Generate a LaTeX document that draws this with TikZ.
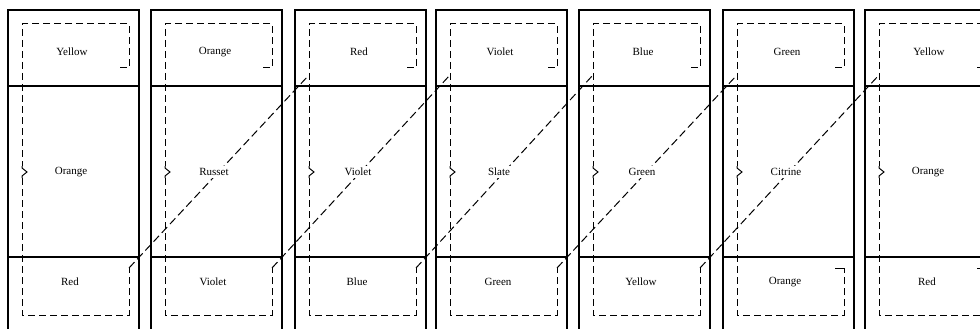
\documentclass[tikz,border=0pt]{standalone}
\usepackage{fontspec}
\setmainfont{Liberation Serif}
\begin{document}
\begin{tikzpicture}[x=1pt,y=-1pt,
  colbox/.style={line width=1.9pt},
  sepline/.style={line width=1.6pt},
  bracket/.style={line width=1.0pt, dash pattern=on 7pt off 4pt},
  solidbit/.style={line width=1.0pt},
  diag/.style={line width=1.0pt, dash pattern=on 8pt off 4pt},
  lbl/.style={font=\fontsize{11}{13}\selectfont, inner sep=0pt},
  midlbl/.style={lbl, fill=white, inner sep=2pt}]
\useasboundingbox (0,0) rectangle (980,329);
\clip (0,0) rectangle (980,329);
\foreach \i/\L/\t/\m/\b in {1/8/Yellow/Orange/Red, 2/151/Orange/Russet/Violet, 3/295/Red/Violet/Blue, 4/436/Violet/Slate/Green, 5/579/Blue/Green/Yellow, 6/723/Green/Citrine/Orange, 7/865/Yellow/Orange/Red}{
  \draw[colbox] (\L,340) -- (\L,10) -- (\L+131,10) -- (\L+131,340);
  \draw[sepline] (\L,86) -- (\L+131,86) (\L,257) -- (\L+131,257);
  \coordinate (ent\i) at (\L+14,75);
  \draw[bracket] (\L+112,68) -- (\L+121,68) -- (\L+121,24) -- (\L+14,24) -- (\L+14,166);
  \draw[solidbit] (\L+14,166) -- (\L+14,168) -- (\L+19,172) -- (\L+14,176) -- (\L+14,178);
  \draw[bracket] (\L+14,178) -- (\L+14,315) -- (\L+121,315) -- (\L+121,268) coordinate (br\i);
}
\draw[solidbit] (br6) -- ++(-9,0);
\draw[solidbit] (br7) -- ++(-9,0);
\foreach \k/\j in {1/3,2/4,3/5,4/6,5/7}{
  \draw[diag] (br\k) -- (ent\j);
}
\foreach \i/\L/\t/\m/\b in {1/8/Yellow/Orange/Red, 2/151/Orange/Russet/Violet, 3/295/Red/Violet/Blue, 4/436/Violet/Slate/Green, 5/579/Blue/Green/Yellow, 6/723/Green/Citrine/Orange, 7/865/Yellow/Orange/Red}{
  \node[lbl] (top\i) at (\L+64,52) {\t};
  \node[midlbl] (mid\i) at (\L+63,172) {\m};
  \node[lbl] (bot\i) at (\L+62,282) {\b};
}
\end{tikzpicture}
\end{document}
